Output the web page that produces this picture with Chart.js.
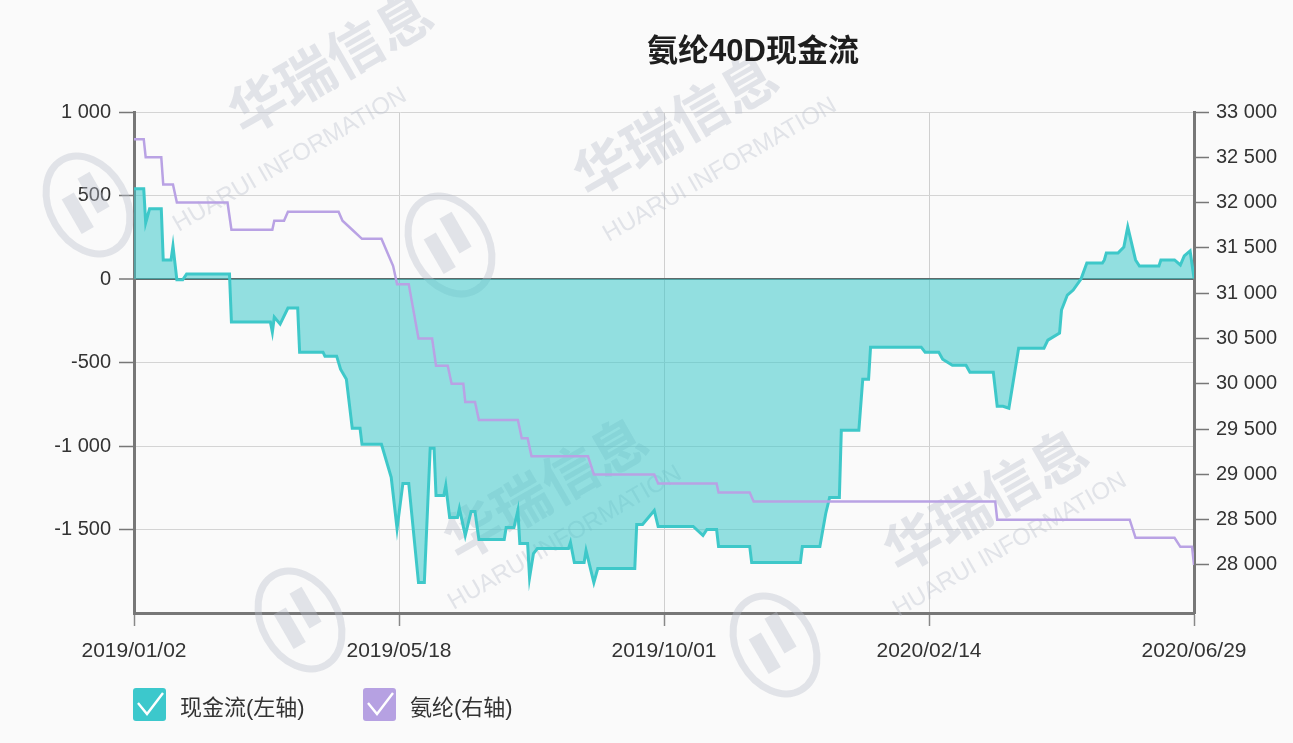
<!DOCTYPE html>
<html>
<head>
<meta charset="utf-8">
<script src="https://cdn.jsdelivr.net/npm/chart.js@4.4.0/dist/chart.umd.min.js"></script>
<style>
html,body{margin:0;padding:0;background:#fafafa;}
#wrap{position:relative;width:1293px;height:743px;overflow:hidden;}
canvas{display:block;}
.lg{position:absolute;top:688px;height:33px;display:flex;align-items:center;font-family:"Liberation Sans","Noto Sans CJK SC",sans-serif;font-size:22px;color:#333;white-space:nowrap;}
.lg .box{width:33px;height:33px;border-radius:3px;margin-right:14px;position:relative;}
.lg .box svg{position:absolute;left:0;top:0;}
</style>
</head>
<body>
<div id="wrap">
<canvas id="c" width="1293" height="743"></canvas>
<div class="lg" style="left:133px"><div class="box" style="background:#3cc8cc"><svg width="33" height="33" viewBox="0 0 33 33"><path d="M5 15 L14 26 L30 5" stroke="#fff" stroke-width="2.4" fill="none"/></svg></div><span id="lg1"></span></div>
<div class="lg" style="left:363px"><div class="box" style="background:#b6a1e2"><svg width="33" height="33" viewBox="0 0 33 33"><path d="M5 15 L14 26 L30 5" stroke="#fff" stroke-width="2.4" fill="none"/></svg></div><span id="lg2"></span></div>
</div>
<script>
// ---------- data ----------
const chartTitle = '氨纶40D现金流';
const seriesNames = ['现金流(左轴)', '氨纶(右轴)'];
// x: days after 2019/01/02
const xTickDays = [0, 136, 272, 408, 544];
const xTickLabels = ['2019/01/02', '2019/05/18', '2019/10/01', '2020/02/14', '2020/06/29'];
const leftTicks = [1000, 500, 0, -500, -1000, -1500];
const rightTicks = [33000, 32500, 32000, 31500, 31000, 30500, 30000, 29500, 29000, 28500, 28000];

const cashDays = [0,5,6,8,14,15,19,20,22,25,27,49,50,70,71,72,75,79,84,85,97,98,104,106,109,112,116,117,127,132,135,138,141,146,149,152,154,155,159,160,162,166,167,170,173,175,177,190,191,195,197,198,202,203,205,207,223,224,226,231,232,236,238,257,258,261,264,267,269,287,292,294,299,300,316,317,342,343,352,355,357,362,363,372,374,377,378,404,406,413,415,420,427,429,441,443,446,449,454,467,469,475,476,479,482,486,489,497,498,499,505,508,510,514,516,526,527,534,537,539,542,544];
const cashValues = [540,540,336,420,420,114,114,198,-5,-5,30,30,-258,-258,-318,-228,-270,-174,-174,-438,-438,-462,-462,-540,-600,-894,-894,-990,-990,-1188,-1494,-1224,-1224,-1818,-1818,-1014,-1014,-1296,-1296,-1236,-1428,-1428,-1374,-1536,-1392,-1392,-1560,-1560,-1488,-1488,-1386,-1584,-1584,-1788,-1644,-1614,-1614,-1578,-1698,-1698,-1626,-1818,-1734,-1734,-1470,-1470,-1428,-1386,-1482,-1482,-1536,-1500,-1500,-1602,-1602,-1698,-1698,-1602,-1602,-1404,-1308,-1308,-906,-906,-600,-600,-408,-408,-438,-438,-480,-516,-516,-558,-558,-762,-762,-774,-414,-414,-366,-324,-186,-96,-66,0,96,96,114,156,156,192,312,114,78,78,114,114,84,138,168,6];

const spandexDays = [0,5,6,14,15,20,22,48,50,71,72,77,79,105,107,112,117,127,131,133,135,141,146,153,155,161,163,169,170,175,177,197,199,202,204,233,236,267,269,299,300,316,318,442,443,511,514,534,537,543,544];
const spandexValues = [32700,32700,32500,32500,32200,32200,32000,32000,31700,31700,31800,31800,31900,31900,31800,31700,31600,31600,31400,31300,31100,31100,30500,30500,30200,30200,30000,30000,29800,29800,29600,29600,29400,29400,29200,29200,29000,29000,28900,28900,28800,28800,28700,28700,28500,28500,28300,28300,28200,28200,28000];

// ---------- helpers ----------
function fmt(v){
  const s = Math.abs(Math.round(v)).toString().replace(/\B(?=(\d{3})+(?!\d))/g, ' ');
  return (v < 0 ? '-' : '') + s;
}
document.getElementById('lg1').textContent = seriesNames[0];
document.getElementById('lg2').textContent = seriesNames[1];

const tickFont = {family: "'Liberation Sans', Arial, sans-serif", size: 20};
const xTickFont = {family: "'Liberation Sans', Arial, sans-serif", size: 21};

const titlePlugin = {
  id: 'customTitle',
  afterDraw(chart){
    const c = chart.ctx;
    c.save();
    c.font = "bold 31px 'Liberation Sans', 'Noto Sans CJK SC', sans-serif";
    c.fillStyle = '#1e1e1e';
    c.textAlign = 'center';
    c.textBaseline = 'middle';
    c.fillText(chartTitle, 753, 52);
    c.restore();
  }
};

const watermarkPlugin = {
  id: 'watermark',
  beforeDatasetsDraw(chart){
    const c = chart.ctx;
    const marks = [
      {logo:[88,205], zh:[330,62], en:[290,160]},
      {logo:[450,245], zh:[675,125], en:[720,170]},
      {logo:[300,620], zh:[545,488], en:[565,538]},
      {logo:[775,645], zh:[985,500], en:[1010,545]}
    ];
    const col = 'rgba(185,190,202,0.38)';
    c.save();
    c.fillStyle = col;
    c.strokeStyle = col;
    c.textAlign = 'center';
    c.textBaseline = 'middle';
    marks.forEach(m => {
      c.save();
      c.translate(m.logo[0], m.logo[1]);
      c.rotate(-30 * Math.PI / 180);
      c.lineWidth = 7;
      c.beginPath();
      c.ellipse(0, 0, 38, 52, 0, 0, Math.PI * 2);
      c.stroke();
      c.fillRect(-20, -18, 14, 40);
      c.fillRect(4, -28, 14, 40);
      c.restore();
      c.save();
      c.translate(m.zh[0], m.zh[1]);
      c.rotate(-30 * Math.PI / 180);
      c.font = "bold 56px 'Noto Sans CJK SC', sans-serif";
      c.fillText('华瑞信息', 0, 0);
      c.restore();
      c.save();
      c.translate(m.en[0], m.en[1]);
      c.rotate(-30 * Math.PI / 180);
      c.font = "24px 'Liberation Sans', sans-serif";
      c.fillText('HUARUI INFORMATION', 0, 0);
      c.restore();
    });
    c.restore();
  }
};

new Chart(document.getElementById('c'), {
  type: 'line',
  data: {
    datasets: [
      {
        label: seriesNames[1],
        data: spandexDays.map((d, i) => ({x: d, y: spandexValues[i]})),
        yAxisID: 'yR',
        borderColor: '#b9a2e4',
        borderWidth: 2.5,
        pointRadius: 0,
        fill: false,
        tension: 0,
        order: 0
      },
      {
        label: seriesNames[0],
        data: cashDays.map((d, i) => ({x: d, y: cashValues[i]})),
        yAxisID: 'yL',
        borderColor: '#3ec8c9',
        backgroundColor: 'rgba(60,200,202,0.55)',
        borderWidth: 3,
        pointRadius: 0,
        fill: 'origin',
        tension: 0,
        order: 1
      }
    ]
  },
  options: {
    responsive: false,
    animation: false,
    devicePixelRatio: 1,
    layout: {padding: {top: 112, left: 0, right: 0, bottom: 0}},
    plugins: {legend: {display: false}, title: {display: false}, tooltip: {enabled: false}},
    scales: {
      x: {
        type: 'linear',
        min: 0,
        max: 544,
        afterBuildTicks: s => { s.ticks = xTickDays.map(v => ({value: v})); },
        afterFit: s => { s.height = 130; },
        ticks: {
          autoSkip: false,
          maxRotation: 0,
          padding: 13,
          color: '#333',
          font: xTickFont,
          callback: (v, i) => xTickLabels[i]
        },
        grid: {
          color: ctx => (ctx.index === 0 || ctx.index === xTickDays.length - 1) ? 'rgba(0,0,0,0)' : '#cfcfcf',
          lineWidth: 1,
          tickLength: 13,
          tickColor: '#888',
          tickWidth: 1.5
        },
        border: {display: true, color: '#777', width: 3}
      },
      yL: {
        type: 'linear',
        position: 'left',
        min: -2000,
        max: 1000,
        afterBuildTicks: s => { s.ticks = leftTicks.map(v => ({value: v})); },
        afterFit: s => { s.width = 134; },
        ticks: {color: '#333', font: tickFont, padding: 8, callback: v => fmt(v)},
        grid: {
          color: ctx => (ctx.tick && ctx.tick.value === 0) ? '#5e6a6a' : '#d4d4d4',
          lineWidth: ctx => (ctx.tick && ctx.tick.value === 0) ? 2 : 1,
          tickLength: 15,
          tickColor: '#777',
          tickWidth: 1.5
        },
        border: {display: true, color: '#777', width: 3}
      },
      yR: {
        type: 'linear',
        position: 'right',
        min: 27470,
        max: 33000,
        afterBuildTicks: s => { s.ticks = rightTicks.map(v => ({value: v})); },
        afterFit: s => { s.width = 99; },
        ticks: {color: '#333', font: tickFont, padding: 7, callback: v => fmt(v)},
        grid: {
          drawOnChartArea: false,
          tickLength: 15,
          tickColor: '#777',
          tickWidth: 1.5
        },
        border: {display: true, color: '#777', width: 3}
      }
    }
  },
  plugins: [watermarkPlugin, titlePlugin]
});
</script>
</body>
</html>
